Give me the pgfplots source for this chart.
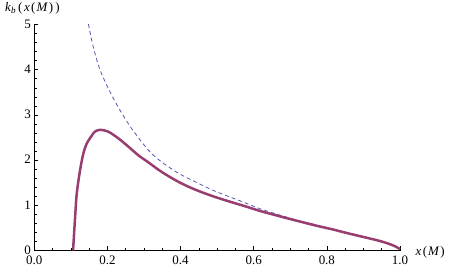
\documentclass[border=0pt]{standalone}
\usepackage{fontspec}
\setmainfont{Liberation Serif}
\usepackage{pgfplots}
\pgfplotsset{compat=1.18}
\definecolor{solidc}{RGB}{153,61,113}
\definecolor{dashc}{RGB}{85,85,180}
\begin{document}
\begin{tikzpicture}
\useasboundingbox (-34.3bp,-23.5bp) rectangle (415.7bp,250.5bp);
\begin{axis}[
  at={(0,0)}, anchor=south west,
  scale only axis, width=365.7bp, height=226bp,
  xmin=0, xmax=1, ymin=0, ymax=5,
  axis lines=left, axis line style={-, line width=0.6bp},
  xtick={0,0.2,0.4,0.6,0.8,1.0}, xticklabels={0.0,0.2,0.4,0.6,0.8,1.0},
  ytick={0,1,2,3,4,5}, yticklabels={0,1,2,3,4,5},
  minor x tick num=3, minor y tick num=4,
  tick align=inside, major tick length=4bp, minor tick length=2.5bp,
  tick style={black, line width=0.5bp},
  ticklabel style={font=\fontsize{13}{15}\selectfont},
  xticklabel style={yshift=-2bp},
  yticklabel style={yshift=0.5bp},
  clip=false,
  xlabel={\textit{x}\hspace{1.5bp}(\hspace{1bp}\textit{M}\hspace{1bp})},
  ylabel={\textit{k}\textsubscript{\textit{b}}\hspace{2bp}(\hspace{1.5bp}\textit{x}\hspace{1.5bp}(\hspace{1bp}\textit{M}\hspace{1bp})\hspace{2bp})},
  every axis x label/.style={at={(axis description cs:1,0)}, anchor=base west, xshift=12bp, yshift=-4.5bp, font=\fontsize{13}{15}\selectfont},
  every axis y label/.style={at={(axis description cs:0,1)}, anchor=base west, xshift=-32.6bp, yshift=13.3bp, font=\fontsize{13}{15}\selectfont},
]
\addplot[dashc, line width=0.8bp, dash pattern=on 4bp off 3bp, smooth] coordinates {
(0.148,5.01) (0.161,4.51) (0.180,3.99) (0.207,3.51) (0.234,3.11) (0.266,2.70)
(0.312,2.22) (0.348,1.96) (0.394,1.71) (0.439,1.525) (0.485,1.345) (0.531,1.195)
(0.567,1.085) (0.626,0.90) (0.717,0.675) (0.809,0.49) (0.863,0.38) (0.945,0.215)
(1.0,0.035)
};
\addplot[solidc, line width=2.5bp, smooth, tension=0.55] coordinates {
(0.106,0) (0.111,0.66) (0.116,1.25) (0.125,1.77) (0.134,2.14) (0.143,2.36)
(0.157,2.54) (0.166,2.63) (0.180,2.67) (0.202,2.63) (0.230,2.48) (0.257,2.30)
(0.284,2.11) (0.312,1.95) (0.348,1.74) (0.394,1.52) (0.439,1.35) (0.485,1.21)
(0.531,1.09) (0.576,0.98) (0.626,0.855) (0.717,0.66) (0.781,0.53) (0.809,0.48)
(0.863,0.37) (0.945,0.21) (0.982,0.11) (1.0,0.03)
};
\end{axis}
\end{tikzpicture}
\end{document}
